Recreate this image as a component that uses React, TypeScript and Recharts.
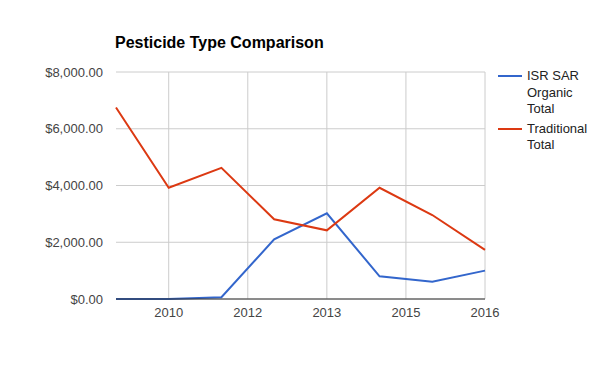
import { CartesianGrid, Line, LineChart, XAxis, YAxis } from "recharts";

const periods = [0, 1, 2, 3, 4, 5, 6, 7];
const isrSarOrganic = [0, 0, 60, 2100, 3020, 800, 610, 1000];
const traditional = [6750, 3920, 4620, 2810, 2420, 3920, 2960, 1730];

const xTicks = [1, 2.5, 4, 5.5, 7];
const xTickLabels = ["2010", "2012", "2013", "2015", "2016"];
const yTicks = [0, 2000, 4000, 6000, 8000];

const seriesNames = ["ISR SAR Organic Total", "Traditional Total"];
const seriesColors = ["#3366cc", "#dc3912"];

const data = periods.map((p, i) => ({
  period: p,
  isr: isrSarOrganic[i],
  trad: traditional[i],
}));

const xMax = periods[periods.length - 1];

const money = (v: number) =>
  "$" +
  v.toLocaleString("en-US", { minimumFractionDigits: 2, maximumFractionDigits: 2 });

const font = "Arial, 'Liberation Sans', sans-serif";

function LegendBox() {
  return (
    <div
      style={{
        position: "absolute",
        left: 498,
        top: 68,
        fontFamily: font,
        fontSize: 13,
        color: "#222",
        lineHeight: "16.5px",
      }}
    >
      {seriesNames.map((name, i) => (
        <div key={name} style={{ display: "flex", alignItems: "flex-start", marginBottom: 3 }}>
          <div
            style={{
              width: 24,
              height: 2,
              background: seriesColors[i],
              marginTop: 7,
              marginRight: 5,
              flex: "none",
            }}
          />
          <div style={{ width: 64 }}>{name}</div>
        </div>
      ))}
    </div>
  );
}

export default function App() {
  return (
    <div
      style={{
        position: "absolute",
        left: 0,
        top: 0,
        width: 600,
        height: 371,
        background: "#fff",
        fontFamily: font,
      }}
    >
      <div
        style={{
          position: "absolute",
          left: 115,
          top: 34,
          fontSize: 16,
          fontWeight: "bold",
          color: "#000",
        }}
      >
        Pesticide Type Comparison
      </div>
      <LegendBox />
      <LineChart
        width={600}
        height={371}
        data={data}
        margin={{ top: 72, right: 115, bottom: 0, left: 0 }}
      >
        <CartesianGrid
          stroke="#cccccc"
          strokeWidth={1}
          vertical
          horizontal
          verticalCoordinatesGenerator={({ offset }: any) =>
            xTicks.map((t) => offset.left + (t / xMax) * offset.width)
          }
        />
        <XAxis
          dataKey="period"
          type="number"
          domain={[0, xMax]}
          ticks={xTicks}
          tickFormatter={(v: number) => xTickLabels[xTicks.indexOf(v)] ?? ""}
          axisLine={{ stroke: "#333333" }}
          tickLine={false}
          tick={{ fill: "#444", fontSize: 13, fontFamily: font }}
          height={72}
          tickMargin={3}
          interval={0}
        />
        <YAxis
          domain={[0, 8000]}
          ticks={yTicks}
          tickFormatter={money}
          axisLine={false}
          tickLine={false}
          tick={{ fill: "#444", fontSize: 13, fontFamily: font }}
          width={116}
          tickMargin={7}
          interval={0}
        />
        <Line
          type="linear"
          dataKey="isr"
          name={seriesNames[0]}
          stroke={seriesColors[0]}
          strokeWidth={2}
          dot={false}
          isAnimationActive={false}
        />
        <Line
          type="linear"
          dataKey="trad"
          name={seriesNames[1]}
          stroke={seriesColors[1]}
          strokeWidth={2}
          dot={false}
          isAnimationActive={false}
        />
      </LineChart>
    </div>
  );
}
